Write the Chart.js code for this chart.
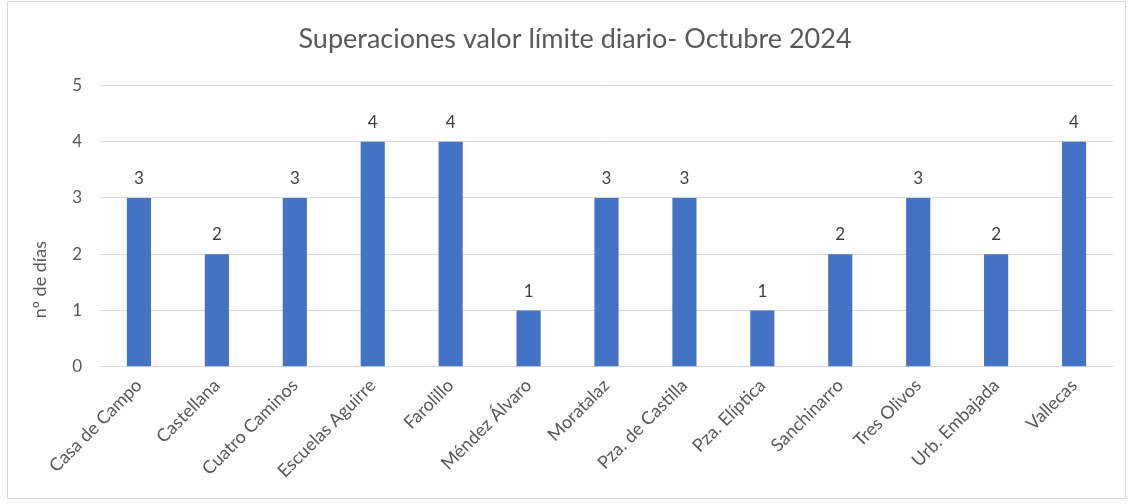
<!DOCTYPE html>
<html>
<head>
<meta charset="utf-8">
<script src="https://cdn.jsdelivr.net/npm/chart.js@4.4.1/dist/chart.umd.min.js"></script>
<style>
html,body{margin:0;padding:0;background:#fff;}
#wrap{position:relative;width:1134px;height:504px;}
#frame{position:absolute;left:7px;top:1px;width:1119px;height:498px;border:1px solid #d9d9d9;box-sizing:border-box;}
canvas{position:absolute;left:0;top:0;}
</style>
</head>
<body>
<div id="wrap"><div id="frame"></div><canvas id="c" width="1134" height="504"></canvas></div>
<script>
const categories = ["Casa de Campo","Castellana","Cuatro Caminos","Escuelas Aguirre","Farolillo","Méndez Álvaro","Moratalaz","Pza. de Castilla","Pza. Elíptica","Sanchinarro","Tres Olivos","Urb. Embajada","Vallecas"];
const values = [3,2,3,4,4,1,3,3,1,2,3,2,4];
const yTicks = [0,1,2,3,4,5];
const titleText = "Superaciones valor límite diario- Octubre 2024";
const yTitle = "nº de días";

const labelPlugin = {
  id: 'barLabels',
  afterDatasetsDraw(chart) {
    const ctx = chart.ctx;
    ctx.save();
    ctx.font = '17px Lato';
    ctx.fillStyle = '#404040';
    ctx.textAlign = 'center';
    ctx.textBaseline = 'bottom';
    chart.getDatasetMeta(0).data.forEach((bar, i) => {
      ctx.fillText(String(values[i]), bar.x, bar.y - 11);
    });
    // y-axis title, placed as in the original (below the plot's middle)
    const area = chart.chartArea;
    ctx.font = '18px Lato';
    ctx.fillStyle = '#595959';
    ctx.textBaseline = 'middle';
    ctx.translate(40, area.top + (area.bottom - area.top) * 0.69);
    ctx.rotate(-Math.PI / 2);
    ctx.fillText(yTitle, 0, 0);
    ctx.restore();
  }
};

new Chart(document.getElementById('c'), {
  type: 'bar',
  data: {
    labels: categories,
    datasets: [{
      data: values,
      backgroundColor: '#4472C4',
      borderWidth: 0,
      categoryPercentage: 1,
      barPercentage: 0.31
    }]
  },
  options: {
    responsive: false,
    animation: false,
    layout: { padding: { left: 37, right: 21, top: 10, bottom: 14 } },
    plugins: {
      legend: { display: false },
      tooltip: { enabled: false },
      title: {
        display: true,
        text: titleText,
        color: '#595959',
        font: { family: 'Lato', size: 27, weight: 'normal' },
        padding: { top: 13, bottom: 30 }
      }
    },
    scales: {
      x: {
        grid: { display: false, drawTicks: false },
        border: { color: '#d9d9d9' },
        ticks: {
          color: '#595959',
          font: { family: 'Lato', size: 18 },
          maxRotation: 45,
          minRotation: 45,
          autoSkip: false,
          padding: 8
        }
      },
      y: {
        min: 0,
        max: 5,
        afterBuildTicks(axis) { axis.ticks = yTicks.map(v => ({ value: v })); },
        afterFit(axis) { axis.width = 63; },
        grid: { color: '#d9d9d9', drawTicks: false },
        border: { display: false },
        ticks: {
          color: '#595959',
          font: { family: 'Lato', size: 17 },
          padding: 18
        }
      }
    }
  },
  plugins: [labelPlugin]
});
</script>
</body>
</html>
